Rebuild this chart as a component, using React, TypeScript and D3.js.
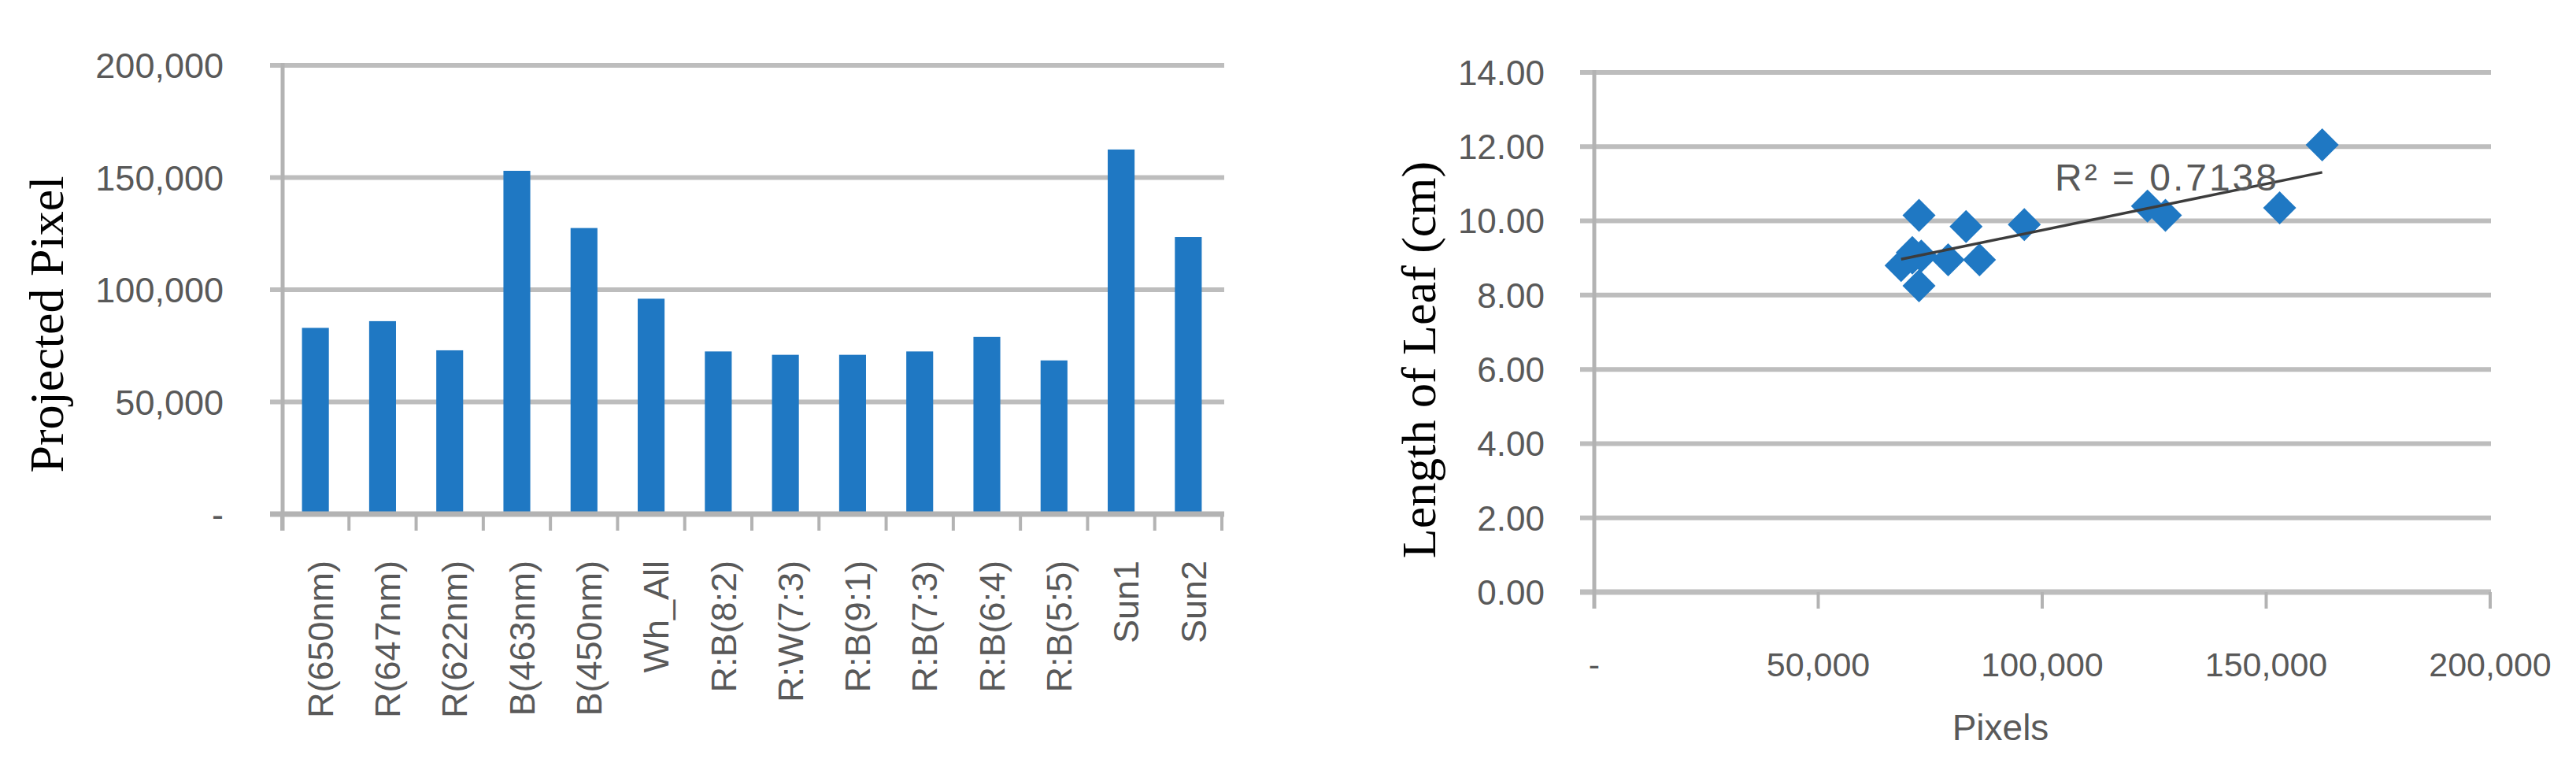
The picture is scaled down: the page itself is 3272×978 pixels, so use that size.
import React from "react";
import * as d3 from "d3";

// ---------- data ----------
const categories = [
  "R(650nm)", "R(647nm)", "R(622nm)", "B(463nm)", "B(450nm)", "Wh_All",
  "R:B(8:2)", "R:W(7:3)", "R:B(9:1)", "R:B(7:3)", "R:B(6:4)", "R:B(5:5)",
  "Sun1", "Sun2",
];
const projectedPixels = [
  83000, 86000, 73000, 153000, 127500, 96000,
  72500, 71000, 71000, 72500, 79000, 68500,
  162500, 123500,
];
const barTicks = [0, 50000, 100000, 150000, 200000];

const scatterPixels = [
  83000, 86000, 73000, 153000, 127500, 96000,
  72500, 71000, 71000, 72500, 79000, 68500,
  162500, 123500,
];
const leafLength = [
  9.85, 8.95, 9.05, 10.35, 10.15, 9.9,
  10.15, 9.15, 9.0, 8.25, 8.95, 8.8,
  12.05, 10.4,
];
const lengthTicks = [0, 2, 4, 6, 8, 10, 12, 14];
const pixelTicks = [0, 50000, 100000, 150000, 200000];
const r2Label = "R² = 0.7138";
const leftTitle = "Projected Pixel";
const rightTitle = "Length of Leaf (cm)";
const rightXTitle = "Pixels";

// ---------- style ----------
const W = 3272;
const H = 978;
const BLUE = "#1f78c3";
const GRID = "#bdbdbd";
const AXIS = "#b3b3b3";
const TXT = "#595959";
const SANS = "'Liberation Sans', Arial, sans-serif";
const SERIF = "'Liberation Serif', 'Times New Roman', serif";

const fmtComma = (v: number) => (v === 0 ? "-" : d3.format(",")(v));
const fmt2 = (v: number) => d3.format(".2f")(v);

export default function App() {
  // left chart scales
  const yL = d3.scaleLinear().domain([0, 200000]).range([653, 83]);
  const xL = d3
    .scaleBand<string>()
    .domain(categories)
    .range([358, 1552])
    .paddingInner(0.6)
    .paddingOuter(0.3);
  const stepL = xL.step();
  const boundaries = d3.range(categories.length + 1).map((i) => 358 + i * stepL);

  // right chart scales
  const xR = d3.scaleLinear().domain([0, 200000]).range([2025, 3163]);
  const yR = d3.scaleLinear().domain([0, 14]).range([752, 92]);

  // linear regression
  const mx = d3.mean(scatterPixels) as number;
  const my = d3.mean(leafLength) as number;
  let sxy = 0;
  let sxx = 0;
  scatterPixels.forEach((x, i) => {
    sxy += (x - mx) * (leafLength[i] - my);
    sxx += (x - mx) * (x - mx);
  });
  const slope = sxy / sxx;
  const icpt = my - slope * mx;
  const [minX, maxX] = d3.extent(scatterPixels) as [number, number];
  const trend = d3.line<number>()
    .x((d) => xR(d))
    .y((d) => yR(icpt + slope * d))([minX, maxX]);

  const diamond = (cx: number, cy: number, r: number) =>
    `M${cx},${cy - r}L${cx + r},${cy}L${cx},${cy + r}L${cx - r},${cy}Z`;

  return (
    <svg
      width={W}
      height={H}
      style={{ position: "absolute", left: 0, top: 0, background: "#fff" }}
    >
      <rect width={W} height={H} fill="#fff" />

      {/* ===== Left bar chart ===== */}
      {barTicks.filter((t) => t > 0).map((t) => (
        <line key={"lg" + t} x1={343} x2={1555} y1={yL(t)} y2={yL(t)} stroke={GRID} strokeWidth={6} />
      ))}
      {categories.map((c, i) => (
        <rect
          key={"bar" + c}
          x={xL(c)}
          y={yL(projectedPixels[i])}
          width={xL.bandwidth()}
          height={yL(0) - yL(projectedPixels[i])}
          fill={BLUE}
        />
      ))}
      <line x1={343} x2={1555} y1={yL(0)} y2={yL(0)} stroke={AXIS} strokeWidth={7} />
      <line x1={359} x2={359} y1={yL(200000) - 3} y2={674} stroke={AXIS} strokeWidth={5} />
      {boundaries.map((b, i) => (
        <line key={"lt" + i} x1={b} x2={b} y1={yL(0)} y2={674} stroke={AXIS} strokeWidth={4} />
      ))}
      {barTicks.map((t) => (
        <text
          key={"ly" + t}
          x={284}
          y={yL(t)}
          dy="0.36em"
          textAnchor="end"
          fontFamily={SANS}
          fontSize={45}
          fill={TXT}
        >
          {fmtComma(t)}
        </text>
      ))}
      {categories.map((c) => {
        const cx = (xL(c) as number) + xL.bandwidth() / 2 + 6;
        return (
          <text
            key={"lx" + c}
            transform={`translate(${cx},712) rotate(-90)`}
            dy="0.36em"
            textAnchor="end"
            fontFamily={SANS}
            fontSize={45}
            fill={TXT}
          >
            {c}
          </text>
        );
      })}
      <text
        transform={`translate(80,412) rotate(-90)`}
        textAnchor="middle"
        fontFamily={SERIF}
        fontSize={62}
        fill="#000"
      >
        {leftTitle}
      </text>

      {/* ===== Right scatter chart ===== */}
      {lengthTicks.map((t) => (
        <line key={"rg" + t} x1={2007} x2={3164} y1={yR(t)} y2={yR(t)} stroke={GRID} strokeWidth={t === 0 ? 7 : 6} />
      ))}
      <line x1={2025} x2={2025} y1={yR(14) - 3} y2={773} stroke={AXIS} strokeWidth={5} />
      {pixelTicks.map((t) => (
        <line key={"rt" + t} x1={xR(t)} x2={xR(t)} y1={yR(0)} y2={773} stroke={AXIS} strokeWidth={4} />
      ))}
      {lengthTicks.map((t) => (
        <text
          key={"ry" + t}
          x={1962}
          y={yR(t)}
          dy="0.36em"
          textAnchor="end"
          fontFamily={SANS}
          fontSize={44}
          fill={TXT}
        >
          {fmt2(t)}
        </text>
      ))}
      {pixelTicks.map((t) => (
        <text
          key={"rx" + t}
          x={xR(t)}
          y={859}
          textAnchor="middle"
          fontFamily={SANS}
          fontSize={43}
          fill={TXT}
        >
          {fmtComma(t)}
        </text>
      ))}
      <text x={2541} y={940} textAnchor="middle" fontFamily={SANS} fontSize={46} fill={TXT}>
        {rightXTitle}
      </text>
      <text
        transform={`translate(1823,457) rotate(-90)`}
        textAnchor="middle"
        fontFamily={SERIF}
        fontSize={62}
        fill="#000"
      >
        {rightTitle}
      </text>
      {scatterPixels.map((x, i) => (
        <path key={"pt" + i} d={diamond(xR(x), yR(leafLength[i]), 21)} fill={BLUE} />
      ))}
      <path d={trend || ""} stroke="#3c3c3c" strokeWidth={3.5} fill="none" />
      <text
        x={2610}
        y={242}
        fontFamily={SANS}
        fontSize={48}
        fill={TXT}
        textLength={282}
        lengthAdjust="spacing"
      >
        {r2Label}
      </text>
    </svg>
  );
}
